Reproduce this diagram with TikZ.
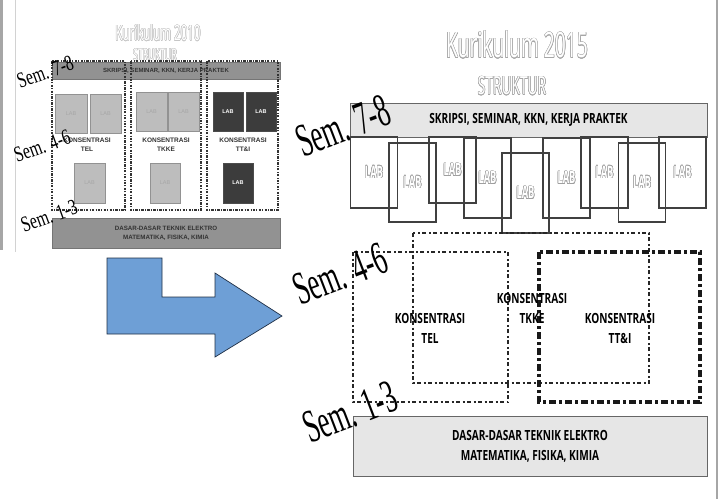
\documentclass[tikz,border=0pt]{standalone}
\usepackage{fontspec}
\usepackage{contour}
\contourlength{0.45pt}
\newfontfamily\titlefont[FakeStretch=0.55]{Open Sans}
\newfontfamily\condfont[FakeStretch=0.72]{Open Sans}
\newfontfamily\semRfont[FakeStretch=0.56]{Liberation Serif}
\newfontfamily\semLfont[FakeStretch=0.72]{Liberation Serif}
\newfontfamily\arialfont{Liberation Sans}
\definecolor{arrowblue}{HTML}{6E9FD6}
\definecolor{arrowedge}{HTML}{1F2F45}
\definecolor{oldbar}{HTML}{929292}
\definecolor{oldlab}{HTML}{BDBDBD}
\definecolor{oldlabdark}{HTML}{3C3C3C}
\definecolor{newbar}{HTML}{E6E6E6}
\newcommand\labnew{{\titlefont\bfseries\fontsize{17}{17}\selectfont\color{white}\contour{gray!75}{LAB}}}
\tikzset{
  labopen/.style={draw=black!75, line width=1.4pt, minimum width=47pt, inner sep=0pt},
  newbarbox/.style={draw=black!60, fill=newbar, line width=1pt, inner sep=0pt},
  newtext/.style={font=\condfont\bfseries\fontsize{14}{20}\selectfont, align=center, text=black, inner sep=0pt},
  oldbarbox/.style={fill=oldbar, draw=oldbar!80!black, line width=0.4pt, inner sep=0pt},
  oldtext/.style={font=\arialfont\bfseries\fontsize{6.2}{9}\selectfont, align=center, text=black!80, inner sep=0pt},
  oldlablight/.style={fill=oldlab, draw=oldbar, line width=0.5pt, inner sep=0pt, font=\arialfont\fontsize{5.5}{6}\selectfont, text=gray!70},
  oldlabdarkbox/.style={fill=oldlabdark, draw=black!70, line width=0.5pt, inner sep=0pt, font=\arialfont\bfseries\fontsize{5.5}{6}\selectfont, text=white},
  olddash/.style={draw=black!80, line width=1.3pt, dash pattern=on 2.5pt off 1.2pt on 1pt off 1.2pt},
  newdash/.style={draw=black!85, line width=2.6pt, dash pattern=on 4pt off 2.5pt on 2pt off 2.5pt},
  newdashthick/.style={draw=black!90, line width=3.5pt, dash pattern=on 7pt off 3pt on 3pt off 3pt},
  semR/.style={font=\semRfont\fontsize{47}{47}\selectfont, rotate=21, anchor=base west, inner sep=0pt},
  semL/.style={font=\semLfont\fontsize{22}{22}\selectfont, rotate=20, anchor=base west, inner sep=0pt}
}
\begin{document}
\begin{tikzpicture}[x=1pt,y=-1pt]
\useasboundingbox (0,0) rectangle (719,499);
% frame lines
\draw[gray!70, line width=3pt] (1.5,0) -- (1.5,250);
\draw[gray!35, line width=0.8pt] (15,0) -- (15,252);
\draw[gray!70, line width=1.2pt] (717,0) -- (717,499);

% ---------------- Kurikulum 2010 ----------------
\node[inner sep=0pt] (t10) at (158,33) {\titlefont\fontsize{21}{21}\selectfont\color{white}\contour{gray!45}{Kurikulum 2010}};
\node[inner sep=0pt] (s10) at (155,55) {\titlefont\fontsize{16}{16}\selectfont\color{white}\contour{gray!45}{STRUKTUR}};
\node[oldbarbox, minimum width=228pt, minimum height=17pt, oldtext, font=\arialfont\bfseries\fontsize{6}{8}\selectfont] (otop) at (166,70.5) {SKRIPSI, SEMINAR, KKN, KERJA PRAKTEK};
\node[oldbarbox, minimum width=228pt, minimum height=30pt, oldtext] (obot) at (166,233) {DASAR-DASAR TEKNIK ELEKTRO\\MATEMATIKA, FISIKA, KIMIA};
% LABs
\node[oldlablight, minimum width=32pt, minimum height=39pt] (oa1) at (71,114) {LAB};
\node[oldlablight, minimum width=31pt, minimum height=39pt] (oa2) at (105.5,114) {LAB};
\node[oldlablight, minimum width=31pt, minimum height=40pt] (oa3) at (89.5,183) {LAB};
\node[oldlablight, minimum width=31pt, minimum height=39pt] (ob1) at (151.5,111.5) {LAB};
\node[oldlablight, minimum width=31pt, minimum height=39pt] (ob2) at (183.5,111.5) {LAB};
\node[oldlablight, minimum width=30pt, minimum height=40pt] (ob3) at (165,183) {LAB};
\node[oldlabdarkbox, minimum width=30pt, minimum height=39pt] (oc1) at (228,111.5) {LAB};
\node[oldlabdarkbox, minimum width=30pt, minimum height=39pt] (oc2) at (261,111.5) {LAB};
\node[oldlabdarkbox, minimum width=30pt, minimum height=40pt] (oc3) at (238,183) {LAB};
% labels
\node[oldtext, font=\arialfont\bfseries\fontsize{6.5}{9}\selectfont] (ok1) at (87,144.5) {KONSENTRASI\\TEL};
\node[oldtext, font=\arialfont\bfseries\fontsize{6.5}{9}\selectfont] (ok2) at (166,144.5) {KONSENTRASI\\TKKE};
\node[oldtext, font=\arialfont\bfseries\fontsize{6.5}{9}\selectfont] (ok3) at (243,144.5) {KONSENTRASI\\TT\&I};
% dashed columns
\draw[olddash] (52,61) rectangle (125,210);
\draw[olddash] (131,61) rectangle (201,210);
\draw[olddash] (207,61) rectangle (278,210);
% Sem labels
\node[semL] (osem1) at (20,89) {Sem. 7-8};
\node[semL] (osem2) at (17,163) {Sem. 4-6};
\node[semL] (osem3) at (24,233) {Sem. 1-3};

% ---------------- Arrow ----------------
\draw[fill=arrowblue, draw=arrowedge, line width=0.7pt, line join=miter]
  (107,258) -- (162,258) -- (162,297) -- (215,297) -- (215,273) -- (282,316)
  -- (215,357) -- (215,334) -- (107,334) -- cycle;

% ---------------- Kurikulum 2015 ----------------
\node[inner sep=0pt] (t15) at (517,45) {\titlefont\fontsize{35}{35}\selectfont\color{white}\contour{gray!70}{Kurikulum 2015}};
\node[inner sep=0pt] (s15) at (512,86) {\titlefont\fontsize{25}{25}\selectfont\color{white}\contour{gray!70}{STRUKTUR}};
\node[newbarbox, minimum width=357pt, minimum height=34pt, newtext] (ntop) at (528.5,120) {SKRIPSI, SEMINAR, KKN, KERJA PRAKTEK};
\node[newbarbox, minimum width=354pt, minimum height=60pt, newtext] (nbot) at (530,446) {DASAR-DASAR TEKNIK ELEKTRO\\MATEMATIKA, FISIKA, KIMIA};
% LAB boxes
\node[labopen, minimum height=71pt] (l1) at (374,172.5) {\labnew};
\node[labopen, minimum height=79pt] (l2) at (412.5,182.5) {\labnew};
\node[labopen, minimum height=66pt] (l3) at (452.5,170) {\labnew};
\node[labopen, minimum height=80pt] (l4) at (487.5,178) {\labnew};
\node[labopen, minimum height=80pt] (l5) at (525.5,193) {\labnew};
\node[labopen, minimum height=80pt] (l6) at (566.5,178) {\labnew};
\node[labopen, minimum height=71pt] (l7) at (604.5,172.5) {\labnew};
\node[labopen, minimum height=79pt] (l8) at (642,182.5) {\labnew};
\node[labopen, minimum height=71pt] (l9) at (682.5,172.5) {\labnew};
% concentration boxes
\draw[newdash] (353,252) rectangle (508,402);
\draw[newdash] (413,233) rectangle (649,383);
\draw[newdashthick] (539,252) rectangle (700,402);
\node[newtext] (nk1) at (430,328) {KONSENTRASI\\TEL};
\node[newtext] (nk2) at (532,308) {KONSENTRASI\\TKKE};
\node[newtext] (nk3) at (620,328) {KONSENTRASI\\TT\&I};
% Sem labels
\node[semR] (nsem1) at (303,158) {Sem. 7-8};
\node[semR] (nsem2) at (300,306) {Sem. 4-6};
\node[semR] (nsem3) at (310,444) {Sem. 1-3};
\end{tikzpicture}
\end{document}
